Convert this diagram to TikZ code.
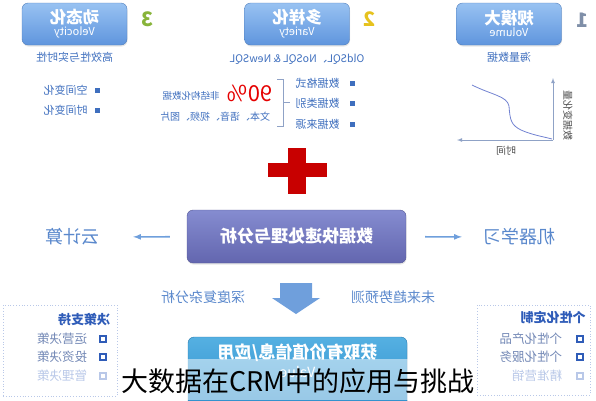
\documentclass[tikz,border=0pt]{standalone}
\usepackage{fontspec}
\setmainfont{Noto Sans CJK SC}
\usepackage{graphicx}
\usepackage{xcolor}
\definecolor{boxtop}{HTML}{98C2F2}
\definecolor{boxbot}{HTML}{5F95DD}
\definecolor{textblue}{HTML}{3F6FBE}
\definecolor{lightblue}{HTML}{5A88CC}
\definecolor{procTop}{HTML}{858CD0}
\definecolor{procBot}{HTML}{6366AF}
\definecolor{resTop}{HTML}{55B0E2}
\definecolor{resBot}{HTML}{2F8FCC}
\definecolor{arrowblue}{HTML}{6F9FDC}
\definecolor{axisgray}{HTML}{8FA2C6}
\definecolor{crossred}{HTML}{C80000}
\definecolor{numgreen}{HTML}{88B43A}
\definecolor{numyellow}{HTML}{E6C21E}
\definecolor{numgray}{HTML}{7F8FA8}
\definecolor{deepblue}{HTML}{2F5CB8}
\definecolor{itemgray}{HTML}{7489B6}
\definecolor{fadeblue}{HTML}{B9C8E8}
\usepackage{tikz}
\usetikzlibrary{positioning,shadows,arrows}

\newcommand{\flip}[1]{\reflectbox{#1}}
\newcommand{\vtitle}[2]{%
\flip{\bfseries\fontsize{16.5}{18}\selectfont #1}\\
\flip{\fontsize{11}{13}\selectfont #2}}
\newcommand{\boxitem}[6]{% name, x, y, text, square colour, text colour
\node (#1) [osq, draw=#5] at (#2,#3) {};
\node (#1t) [item, text=#6, left=11pt of #1] {\flip{#4}};}

\tikzstyle{vbox}=[rectangle, rounded corners=6pt, draw=boxbot!85!black, top color=boxtop,
        bottom color=boxbot, minimum width=105pt, minimum height=42pt, align=center,
        text=white, inner sep=1pt, drop shadow={opacity=0.2, shadow xshift=0.5pt, shadow yshift=-1.5pt}]
\tikzstyle{procbox}=[vbox, draw=procBot!85!black, top color=procTop, bottom color=procBot,
        minimum width=219pt, minimum height=53pt]
\tikzstyle{resbox}=[vbox, draw=resBot!85!black, top color=resTop, bottom color=resBot,
        minimum width=219pt, minimum height=70pt]
\tikzstyle{num}=[font=\bfseries\fontsize{20}{22}\selectfont, inner sep=0pt]
\tikzstyle{sub}=[text=textblue, font=\fontsize{11}{13}\selectfont, inner sep=1pt]
\tikzstyle{note}=[text=textblue, font=\fontsize{10}{12}\selectfont, inner sep=1pt]
\tikzstyle{big}=[text=lightblue, font=\fontsize{18}{20}\selectfont, inner sep=1pt]
\tikzstyle{mid}=[text=lightblue, font=\fontsize{14}{16}\selectfont, inner sep=1pt]
\tikzstyle{bsq}=[rectangle, fill=textblue, minimum size=5pt, inner sep=0pt]
\tikzstyle{osq}=[rectangle, line width=1.2pt, minimum size=6pt, inner sep=0pt]
\tikzstyle{item}=[font=\fontsize{12.5}{14}\selectfont, inner sep=1pt]
\tikzstyle{ftitle}=[text=deepblue, font=\bfseries\fontsize{13}{15}\selectfont, inner sep=1pt]
\tikzstyle{frame}=[draw=fadeblue, dotted, line width=0.8pt]
\tikzstyle{sidearrow}=[draw=arrowblue, line width=1.6pt, -latex]
\tikzstyle{axis}=[draw=axisgray, line width=0.8pt, -latex]

\begin{document}
\begin{tikzpicture}[x=1pt,y=-1pt]
\useasboundingbox (0,0) rectangle (596,400);

% the three V's
\node (vel) [vbox] at (74.5,24) {\vtitle{动态化}{Velocity}};
\node (var) [vbox] at (297,24) {\vtitle{多样化}{Variety}};
\node (vol) [vbox] at (509,24) {\vtitle{规模大}{Volume}};
\node (num3) [num, text=numgreen] at (147,19) {\flip{3}};
\node (num2) [num, text=numyellow] at (369,19) {\flip{2}};
\node (num1) [num, text=numgray] at (582,20) {\flip{1}};

\node (velsub) [sub, below=6pt of vel] {\flip{高效性与实时性}};
\node (varsub) [sub, below=8pt of var, font=\fontsize{10.5}{12}\selectfont] {\flip{OldSQL、NoSQL \& NewSQL}};
\node (volsub) [sub, below=6pt of vol] {\flip{海量数据}};

% velocity
\node (sq1) [bsq] at (97,90) {};
\node (space) [sub, left=5.5pt of sq1] {\flip{空间变化}};
\node (sq2) [bsq] at (97,110) {};
\node (time) [sub, left=5.5pt of sq2] {\flip{时间变化}};

% variety
\node (sq3) [bsq] at (352,83) {};
\node (fmt) [sub, left=8.5pt of sq3] {\flip{数据格式}};
\node (sq4) [bsq] at (352,103) {};
\node (kind) [sub, left=8.5pt of sq4] {\flip{数据类别}};
\node (sq5) [bsq] at (352,124) {};
\node (src) [sub, left=8.5pt of sq5] {\flip{数据来源}};
\draw[draw=axisgray, line width=0.7pt] (277,79) -- (283,79) -- (283,126) -- (277,126);
\draw[draw=axisgray, line width=0.7pt] (283,102) -- (290,102);
\node (pct) [text=red!90!black, font=\fontsize{22}{24}\selectfont, inner sep=0pt] at (250,93) {\flip{90\%}};
\node (unstr) [note, font=\fontsize{9.5}{11}\selectfont] at (191,96) {\flip{非结构化数据}};
\node (media) [note] at (215,117) {\flip{文本、语音、视频、图片}};

% volume chart
\coordinate (org) at (553,140);
\draw[axis] (org) -- (553,78);
\draw[axis] (org) -- (457,140);
\draw[draw=axisgray!80!blue, line width=0.8pt] (472,85) .. controls (492,95) and (507,96) .. (509,106)
  .. controls (510,120) and (511,125) .. (521,130) .. controls (532,135) and (545,137) .. (552,139);
\node (tlabel) [note, text=black!70] at (506,151) {\flip{时间}};
\node (dlabel) [note, text=black!70, rotate=-90] at (568,115) {\flip{数据变化量}};

% red cross
\fill[crossred] (268,163) rectangle (327,177);
\fill[crossred] (288,148) rectangle (306,194);

\node (proc) [procbox] at (296.5,236.5) {\flip{\bfseries\fontsize{17}{19}\selectfont 数据快速处理与分析}};
\node (cloud) [big] at (72,237) {\flip{云计算}};
\node (ml) [big] at (519,237) {\flip{机器学习}};
\draw[sidearrow, shorten <=17pt, shorten >=33pt] (proc) -- (cloud);
\draw[sidearrow, shorten <=19pt, shorten >=20pt] (proc) -- (ml);

\node (deep) [mid] at (203,297) {\flip{深度复杂分析}};
\node (future) [mid] at (393,297) {\flip{未来趋势预测}};
\fill[arrowblue] (280,283) -- (312,283) -- (312,298) -- (320,298) -- (296,314) -- (272,298) -- (280,298) -- cycle;

\node (res) [resbox] at (297.5,372) {};
\node (restxt) [text=white, inner sep=1pt, below=6pt of res.north] {\flip{\bfseries\fontsize{17}{19}\selectfont 获取有价值信息/应用}};
\node (value) [text=white, inner sep=1pt, below=2pt of restxt] {\flip{\fontsize{14}{16}\selectfont Value}};

% side frames
\node (dframe) [frame, minimum width=114pt, minimum height=91pt] at (60,350.5) {};
\node (dtitle) [ftitle] at (84,320) {\flip{决策支持}};
\boxitem{op}{103}{339}{运营决策}{deepblue}{itemgray}
\boxitem{inv}{103}{357}{投资决策}{deepblue}{itemgray}
\boxitem{mgt}{103}{376}{管理决策}{fadeblue}{fadeblue}

\node (pframe) [frame, minimum width=113pt, minimum height=90pt] at (533.5,350) {};
\node (ptitle) [ftitle] at (553,317) {\flip{个性化定制}};
\node (pp) [osq, draw=deepblue] at (580,339) {};
\node (ppt) [item, text=itemgray, left=13pt of pp] {\flip{个性化产品}};
\node (ps) [osq, draw=deepblue] at (580,357) {};
\node (pst) [item, text=itemgray, left=13pt of ps] {\flip{个性化服务}};
\node (pm) [osq, draw=fadeblue] at (580,376) {};
\node (pmt) [item, text=fadeblue, left=13pt of pm] {\flip{精准营销}};

% caption band
\fill[white, opacity=0.5] (120,359) rectangle (476,400);
\node (cap) [inner sep=0pt] at (298,381) {\fontsize{27}{30}\selectfont 大数据在CRM中的应用与挑战};

\end{tikzpicture}
\end{document}
